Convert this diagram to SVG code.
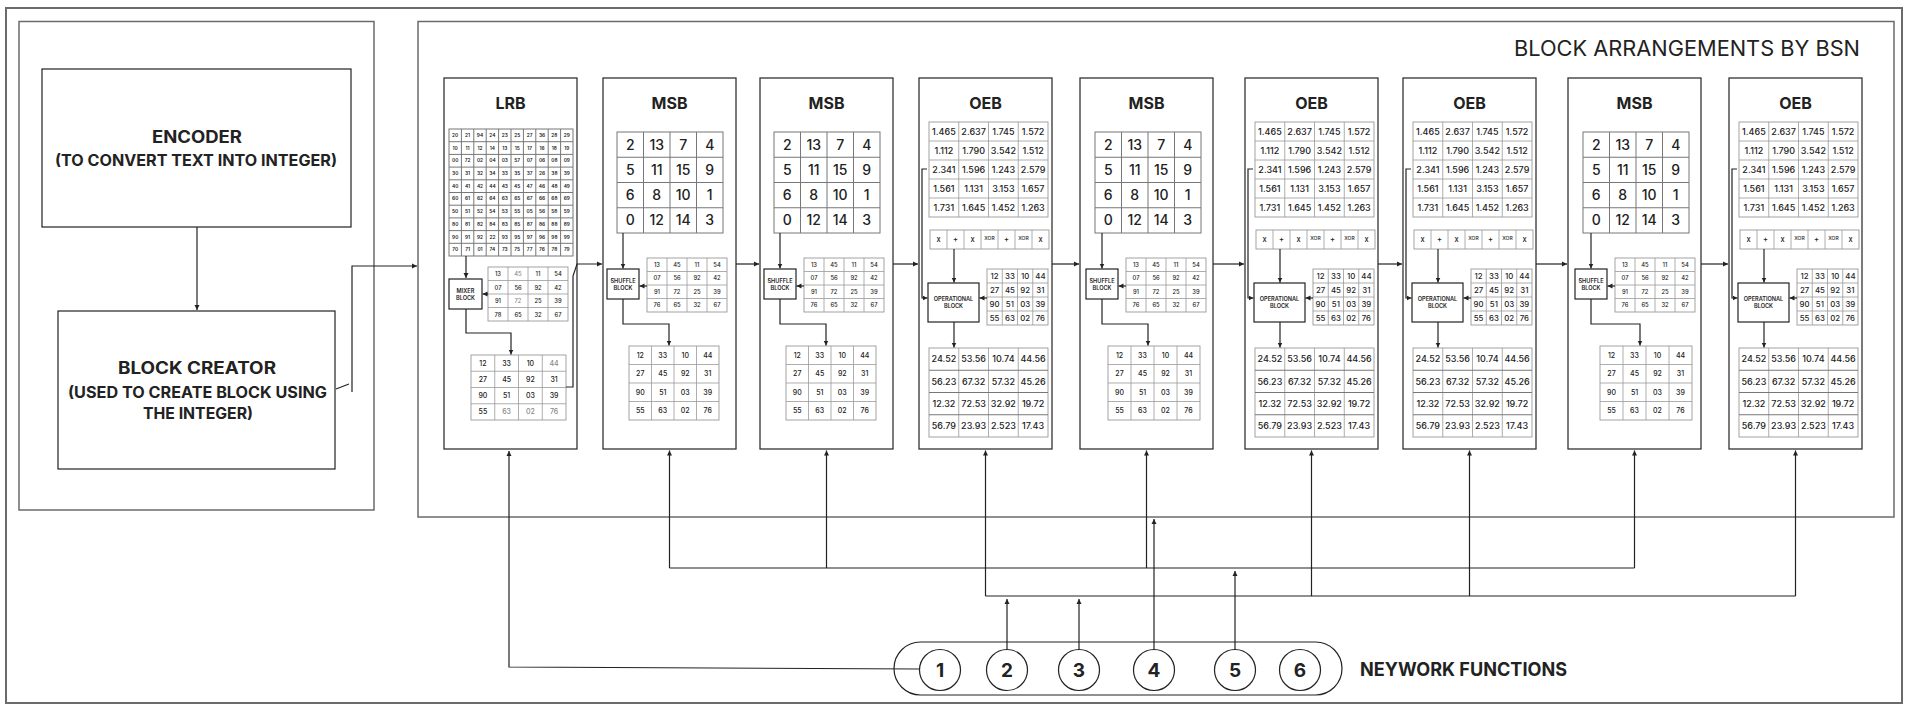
<svg xmlns="http://www.w3.org/2000/svg" width="1910" height="711" viewBox="0 0 1910 711">
<style>
text{font-family:Inter,"Liberation Sans",sans-serif;fill:#222}
.frm{fill:none;stroke:#6b6b6b;stroke-width:2}
.blk{fill:#fff;stroke:#333;stroke-width:1.3}
.box{fill:#fff;stroke:#222;stroke-width:1.2}
.bx{fill:#fff;stroke:#222;stroke-width:1.2}
.tb{fill:#fff;stroke:#999;stroke-width:0.9}
.ln{fill:none;stroke:#999;stroke-width:0.8}
.tk{fill:#fff;stroke:#777;stroke-width:1}
.lk{fill:none;stroke:#777;stroke-width:1}
.c{fill:none;stroke:#222;stroke-width:1.2}
.ca{fill:none;stroke:#222;stroke-width:1.2;marker-end:url(#ah)}
.ttl{font-size:16px;font-weight:700;text-anchor:middle}
.big{font-size:17px;font-weight:700}
.sub{font-size:15.5px;font-weight:700}
.n12{font-size:14px;font-weight:500;text-anchor:middle}
.n4{font-size:4.8px;font-weight:600;text-anchor:middle}
.n5{font-size:5.8px;font-weight:500;text-anchor:middle}
.n6{font-size:7px;font-weight:500;text-anchor:middle}
.n7{font-size:7.8px;font-weight:500;text-anchor:middle}
.n8{font-size:9px;font-weight:500;text-anchor:middle}
.op{font-size:7.5px;font-weight:500;text-anchor:middle}
.xo{font-size:5px;font-weight:500;text-anchor:middle}
.lb{font-size:5.6px;font-weight:600;text-anchor:middle}
.lt{fill:#8a8a8a}
.num{font-size:19px;font-weight:700;text-anchor:middle}
.cir{fill:#fff;stroke:#222;stroke-width:1.2}
</style>
<defs>
<marker id="ah" markerUnits="userSpaceOnUse" markerWidth="6" markerHeight="6" refX="5" refY="3" orient="auto">
<path d="M0,0.5 L5,3 L0,5.5 z" fill="#222"/>
</marker>
</defs>
<rect width="1910" height="711" fill="#fff"/>
<rect class="frm" x="6" y="8" width="1896" height="695"/>
<rect class="frm" x="19" y="21.5" width="355" height="488.5" style="stroke-width:1.5"/>
<rect class="frm" x="418" y="21.5" width="1476" height="495.5" style="stroke-width:1.5"/>
<text x="1514" y="56" font-size="21" textLength="346" lengthAdjust="spacingAndGlyphs">BLOCK ARRANGEMENTS BY BSN</text>

<g id="encoder">
<rect class="box" x="42" y="69" width="309" height="158"/>
<text class="big" x="152" y="143" textLength="90" lengthAdjust="spacingAndGlyphs">ENCODER</text>
<text class="sub" x="55" y="166" textLength="282" lengthAdjust="spacingAndGlyphs">(TO CONVERT TEXT INTO INTEGER)</text>
</g>
<g id="block-creator">
<rect class="box" x="58" y="311" width="277" height="158"/>
<text class="big" x="118" y="374" textLength="158" lengthAdjust="spacingAndGlyphs">BLOCK CREATOR</text>
<text class="sub" x="68" y="398" textLength="259" lengthAdjust="spacingAndGlyphs">(USED TO CREATE BLOCK USING</text>
<text class="sub" x="143" y="419" textLength="110" lengthAdjust="spacingAndGlyphs">THE INTEGER)</text>
</g>

<g id="lrb" transform="translate(444,78)">
<rect class="blk" width="133" height="371"/>
<text class="ttl" x="66.5" y="31">LRB</text>
<rect class="tk" x="5" y="51" width="124" height="127"/>
<path class="lk" d="M17.4,51V178M29.8,51V178M42.2,51V178M54.6,51V178M67,51V178M79.4,51V178M91.8,51V178M104.2,51V178M116.6,51V178M5,63.7H129M5,76.4H129M5,89.1H129M5,101.8H129M5,114.5H129M5,127.2H129M5,139.9H129M5,152.6H129M5,165.3H129"/>
<text class="n4" y="58.9"><tspan x="11.2">20</tspan><tspan x="23.6">21</tspan><tspan x="36">94</tspan><tspan x="48.4">24</tspan><tspan x="60.8">23</tspan><tspan x="73.2">25</tspan><tspan x="85.6">27</tspan><tspan x="98">36</tspan><tspan x="110.4">28</tspan><tspan x="122.8">29</tspan></text>
<text class="n4" y="71.6"><tspan x="11.2">10</tspan><tspan x="23.6">11</tspan><tspan x="36">12</tspan><tspan x="48.4">14</tspan><tspan x="60.8">13</tspan><tspan x="73.2">15</tspan><tspan x="85.6">17</tspan><tspan x="98">16</tspan><tspan x="110.4">18</tspan><tspan x="122.8">19</tspan></text>
<text class="n4" y="84.3"><tspan x="11.2">00</tspan><tspan x="23.6">72</tspan><tspan x="36">02</tspan><tspan x="48.4">04</tspan><tspan x="60.8">03</tspan><tspan x="73.2">57</tspan><tspan x="85.6">07</tspan><tspan x="98">06</tspan><tspan x="110.4">08</tspan><tspan x="122.8">09</tspan></text>
<text class="n4" y="97"><tspan x="11.2">30</tspan><tspan x="23.6">31</tspan><tspan x="36">32</tspan><tspan x="48.4">34</tspan><tspan x="60.8">33</tspan><tspan x="73.2">35</tspan><tspan x="85.6">37</tspan><tspan x="98">26</tspan><tspan x="110.4">38</tspan><tspan x="122.8">39</tspan></text>
<text class="n4" y="109.7"><tspan x="11.2">40</tspan><tspan x="23.6">41</tspan><tspan x="36">42</tspan><tspan x="48.4">44</tspan><tspan x="60.8">43</tspan><tspan x="73.2">45</tspan><tspan x="85.6">47</tspan><tspan x="98">46</tspan><tspan x="110.4">48</tspan><tspan x="122.8">49</tspan></text>
<text class="n4" y="122.4"><tspan x="11.2">60</tspan><tspan x="23.6">61</tspan><tspan x="36">62</tspan><tspan x="48.4">64</tspan><tspan x="60.8">63</tspan><tspan x="73.2">65</tspan><tspan x="85.6">67</tspan><tspan x="98">66</tspan><tspan x="110.4">68</tspan><tspan x="122.8">69</tspan></text>
<text class="n4" y="135.1"><tspan x="11.2">50</tspan><tspan x="23.6">51</tspan><tspan x="36">52</tspan><tspan x="48.4">54</tspan><tspan x="60.8">53</tspan><tspan x="73.2">55</tspan><tspan x="85.6">05</tspan><tspan x="98">56</tspan><tspan x="110.4">58</tspan><tspan x="122.8">59</tspan></text>
<text class="n4" y="147.8"><tspan x="11.2">80</tspan><tspan x="23.6">81</tspan><tspan x="36">82</tspan><tspan x="48.4">84</tspan><tspan x="60.8">83</tspan><tspan x="73.2">85</tspan><tspan x="85.6">87</tspan><tspan x="98">86</tspan><tspan x="110.4">88</tspan><tspan x="122.8">89</tspan></text>
<text class="n4" y="160.5"><tspan x="11.2">90</tspan><tspan x="23.6">91</tspan><tspan x="36">92</tspan><tspan x="48.4">22</tspan><tspan x="60.8">93</tspan><tspan x="73.2">95</tspan><tspan x="85.6">97</tspan><tspan x="98">96</tspan><tspan x="110.4">98</tspan><tspan x="122.8">99</tspan></text>
<text class="n4" y="173.2"><tspan x="11.2">70</tspan><tspan x="23.6">71</tspan><tspan x="36">01</tspan><tspan x="48.4">74</tspan><tspan x="60.8">73</tspan><tspan x="73.2">75</tspan><tspan x="85.6">77</tspan><tspan x="98">76</tspan><tspan x="110.4">78</tspan><tspan x="122.8">79</tspan></text>
<rect class="bx" x="5" y="201" width="33" height="30"/>
<text class="lb"><tspan x="21.5" y="214.5">MIXER</tspan><tspan x="21.5" y="221.5">BLOCK</tspan></text>
<rect class="tb" x="44" y="189" width="80" height="54"/>
<path class="ln" d="M64,189V243M84,189V243M104,189V243M44,202.5H124M44,216H124M44,229.5H124"/>
<text class="n5" y="198"><tspan x="54">13</tspan><tspan x="74" class="lt">45</tspan><tspan x="94">11</tspan><tspan x="114">54</tspan></text>
<text class="n5" y="211.5"><tspan x="54">07</tspan><tspan x="74">56</tspan><tspan x="94">92</tspan><tspan x="114">42</tspan></text>
<text class="n5" y="225"><tspan x="54">91</tspan><tspan x="74" class="lt">72</tspan><tspan x="94">25</tspan><tspan x="114">39</tspan></text>
<text class="n5" y="238.5"><tspan x="54">78</tspan><tspan x="74">65</tspan><tspan x="94">32</tspan><tspan x="114">67</tspan></text>
<rect class="tb" x="27" y="277" width="95" height="65"/>
<path class="ln" d="M50.75,277V342M74.5,277V342M98.25,277V342M27,293.25H122M27,309.5H122M27,325.75H122"/>
<text class="n6" y="287.6"><tspan x="38.9">12</tspan><tspan x="62.6">33</tspan><tspan x="86.4">10</tspan><tspan x="110.1" class="lt">44</tspan></text>
<text class="n6" y="303.9"><tspan x="38.9">27</tspan><tspan x="62.6">45</tspan><tspan x="86.4">92</tspan><tspan x="110.1">31</tspan></text>
<text class="n6" y="320.1"><tspan x="38.9">90</tspan><tspan x="62.6">51</tspan><tspan x="86.4">03</tspan><tspan x="110.1">39</tspan></text>
<text class="n6" y="336.4"><tspan x="38.9">55</tspan><tspan x="62.6" class="lt">63</tspan><tspan x="86.4" class="lt">02</tspan><tspan x="110.1" class="lt">76</tspan></text>
<g class="inner">
<path class="ca" d="M22,178V200"/>
<path class="ca" d="M44,216H38.5"/>
<path class="ca" d="M22,231V255H67V276.5"/>
</g>
</g>

<g id="msb1" transform="translate(603,78)">
<rect class="blk" width="133" height="371"/>
<text class="ttl" x="66.5" y="31">MSB</text>
<rect class="tk" x="14" y="54" width="106" height="101"/>
<path class="lk" d="M40.5,54V155M67,54V155M93.5,54V155M14,79.25H120M14,104.5H120M14,129.75H120"/>
<text class="n12" y="71.7"><tspan x="27.25">2</tspan><tspan x="53.75">13</tspan><tspan x="80.25">7</tspan><tspan x="106.75">4</tspan></text>
<text class="n12" y="96.9"><tspan x="27.25">5</tspan><tspan x="53.75">11</tspan><tspan x="80.25">15</tspan><tspan x="106.75">9</tspan></text>
<text class="n12" y="122.2"><tspan x="27.25">6</tspan><tspan x="53.75">8</tspan><tspan x="80.25">10</tspan><tspan x="106.75">1</tspan></text>
<text class="n12" y="147.4"><tspan x="27.25">0</tspan><tspan x="53.75">12</tspan><tspan x="80.25">14</tspan><tspan x="106.75">3</tspan></text>
<rect class="bx" x="4" y="191" width="32" height="30"/>
<text class="lb"><tspan x="20" y="204.5">SHUFFLE</tspan><tspan x="20" y="211.5">BLOCK</tspan></text>
<rect class="tb" x="44" y="180" width="80" height="54"/>
<path class="ln" d="M64,180V234M84,180V234M104,180V234M44,193.5H124M44,207H124M44,220.5H124"/>
<text class="n5" y="188.8"><tspan x="54">13</tspan><tspan x="74">45</tspan><tspan x="94">11</tspan><tspan x="114">54</tspan></text>
<text class="n5" y="202.3"><tspan x="54">07</tspan><tspan x="74">56</tspan><tspan x="94">92</tspan><tspan x="114">42</tspan></text>
<text class="n5" y="215.8"><tspan x="54">91</tspan><tspan x="74">72</tspan><tspan x="94">25</tspan><tspan x="114">39</tspan></text>
<text class="n5" y="229.3"><tspan x="54">76</tspan><tspan x="74">65</tspan><tspan x="94">32</tspan><tspan x="114">67</tspan></text>
<rect class="tb" x="26" y="268" width="90" height="74"/>
<path class="ln" d="M48.5,268V342M71,268V342M93.5,268V342M26,286.5H116M26,305H116M26,323.5H116"/>
<text class="n6" y="279.8"><tspan x="37.25">12</tspan><tspan x="59.75">33</tspan><tspan x="82.25">10</tspan><tspan x="104.75">44</tspan></text>
<text class="n6" y="298.3"><tspan x="37.25">27</tspan><tspan x="59.75">45</tspan><tspan x="82.25">92</tspan><tspan x="104.75">31</tspan></text>
<text class="n6" y="316.8"><tspan x="37.25">90</tspan><tspan x="59.75">51</tspan><tspan x="82.25">03</tspan><tspan x="104.75">39</tspan></text>
<text class="n6" y="335.3"><tspan x="37.25">55</tspan><tspan x="59.75">63</tspan><tspan x="82.25">02</tspan><tspan x="104.75">76</tspan></text>
<g class="inner">
<path class="ca" d="M20,155V190.5"/>
<path class="ca" d="M44,208H36.5"/>
<path class="ca" d="M20,221V246H66V267.5"/>
</g>
</g>

<g id="msb2" transform="translate(760,78)">
<rect class="blk" width="133" height="371"/>
<text class="ttl" x="66.5" y="31">MSB</text>
<rect class="tk" x="14" y="54" width="106" height="101"/>
<path class="lk" d="M40.5,54V155M67,54V155M93.5,54V155M14,79.25H120M14,104.5H120M14,129.75H120"/>
<text class="n12" y="71.7"><tspan x="27.25">2</tspan><tspan x="53.75">13</tspan><tspan x="80.25">7</tspan><tspan x="106.75">4</tspan></text>
<text class="n12" y="96.9"><tspan x="27.25">5</tspan><tspan x="53.75">11</tspan><tspan x="80.25">15</tspan><tspan x="106.75">9</tspan></text>
<text class="n12" y="122.2"><tspan x="27.25">6</tspan><tspan x="53.75">8</tspan><tspan x="80.25">10</tspan><tspan x="106.75">1</tspan></text>
<text class="n12" y="147.4"><tspan x="27.25">0</tspan><tspan x="53.75">12</tspan><tspan x="80.25">14</tspan><tspan x="106.75">3</tspan></text>
<rect class="bx" x="4" y="191" width="32" height="30"/>
<text class="lb"><tspan x="20" y="204.5">SHUFFLE</tspan><tspan x="20" y="211.5">BLOCK</tspan></text>
<rect class="tb" x="44" y="180" width="80" height="54"/>
<path class="ln" d="M64,180V234M84,180V234M104,180V234M44,193.5H124M44,207H124M44,220.5H124"/>
<text class="n5" y="188.8"><tspan x="54">13</tspan><tspan x="74">45</tspan><tspan x="94">11</tspan><tspan x="114">54</tspan></text>
<text class="n5" y="202.3"><tspan x="54">07</tspan><tspan x="74">56</tspan><tspan x="94">92</tspan><tspan x="114">42</tspan></text>
<text class="n5" y="215.8"><tspan x="54">91</tspan><tspan x="74">72</tspan><tspan x="94">25</tspan><tspan x="114">39</tspan></text>
<text class="n5" y="229.3"><tspan x="54">76</tspan><tspan x="74">65</tspan><tspan x="94">32</tspan><tspan x="114">67</tspan></text>
<rect class="tb" x="26" y="268" width="90" height="74"/>
<path class="ln" d="M48.5,268V342M71,268V342M93.5,268V342M26,286.5H116M26,305H116M26,323.5H116"/>
<text class="n6" y="279.8"><tspan x="37.25">12</tspan><tspan x="59.75">33</tspan><tspan x="82.25">10</tspan><tspan x="104.75">44</tspan></text>
<text class="n6" y="298.3"><tspan x="37.25">27</tspan><tspan x="59.75">45</tspan><tspan x="82.25">92</tspan><tspan x="104.75">31</tspan></text>
<text class="n6" y="316.8"><tspan x="37.25">90</tspan><tspan x="59.75">51</tspan><tspan x="82.25">03</tspan><tspan x="104.75">39</tspan></text>
<text class="n6" y="335.3"><tspan x="37.25">55</tspan><tspan x="59.75">63</tspan><tspan x="82.25">02</tspan><tspan x="104.75">76</tspan></text>
<g class="inner">
<path class="ca" d="M20,155V190.5"/>
<path class="ca" d="M44,208H36.5"/>
<path class="ca" d="M20,221V246H66V267.5"/>
</g>
</g>

<g id="oeb1" transform="translate(919,78)">
<rect class="blk" width="133" height="371"/>
<text class="ttl" x="66.5" y="31">OEB</text>
<rect class="tb" x="10" y="44" width="119" height="95"/>
<path class="ln" d="M39.75,44V139M69.5,44V139M99.25,44V139M10,63H129M10,82H129M10,101H129M10,120H129"/>
<text class="n8" y="56.8"><tspan x="24.9">1.465</tspan><tspan x="54.6">2.637</tspan><tspan x="84.4">1.745</tspan><tspan x="114.1">1.572</tspan></text>
<text class="n8" y="75.8"><tspan x="24.9">1.112</tspan><tspan x="54.6">1.790</tspan><tspan x="84.4">3.542</tspan><tspan x="114.1">1.512</tspan></text>
<text class="n8" y="94.8"><tspan x="24.9">2.341</tspan><tspan x="54.6">1.596</tspan><tspan x="84.4">1.243</tspan><tspan x="114.1">2.579</tspan></text>
<text class="n8" y="113.8"><tspan x="24.9">1.561</tspan><tspan x="54.6">1.131</tspan><tspan x="84.4">3.153</tspan><tspan x="114.1">1.657</tspan></text>
<text class="n8" y="132.8"><tspan x="24.9">1.731</tspan><tspan x="54.6">1.645</tspan><tspan x="84.4">1.452</tspan><tspan x="114.1">1.263</tspan></text>
<rect class="tb" x="11" y="152" width="119" height="19"/>
<path class="ln" d="M28,152V171M45,152V171M62,152V171M79,152V171M96,152V171M113,152V171"/>
<text class="op" y="163.8"><tspan x="19.5">x</tspan><tspan x="36.5">+</tspan><tspan x="53.5">x</tspan><tspan x="70.5" class="xo" dy="-2">XOR</tspan><tspan x="87.5" y="163.8">+</tspan><tspan x="104.5" class="xo" dy="-2">XOR</tspan><tspan x="121.5" y="163.8">x</tspan></text>
<rect class="bx" x="9" y="205" width="51" height="39"/>
<text class="lb"><tspan x="34.5" y="222.5">OPERATIONAL</tspan><tspan x="34.5" y="229.5">BLOCK</tspan></text>
<rect class="tb" x="68" y="191" width="61" height="56"/>
<path class="ln" d="M83.25,191V247M98.5,191V247M113.75,191V247M68,205H129M68,219H129M68,233H129"/>
<text class="n7" y="200.8"><tspan x="75.6">12</tspan><tspan x="90.9">33</tspan><tspan x="106.1">10</tspan><tspan x="121.4">44</tspan></text>
<text class="n7" y="214.8"><tspan x="75.6">27</tspan><tspan x="90.9">45</tspan><tspan x="106.1">92</tspan><tspan x="121.4">31</tspan></text>
<text class="n7" y="228.8"><tspan x="75.6">90</tspan><tspan x="90.9">51</tspan><tspan x="106.1">03</tspan><tspan x="121.4">39</tspan></text>
<text class="n7" y="242.8"><tspan x="75.6">55</tspan><tspan x="90.9">63</tspan><tspan x="106.1">02</tspan><tspan x="121.4">76</tspan></text>
<rect class="tb" x="10" y="270" width="119" height="89"/>
<path class="ln" d="M39.75,270V359M69.5,270V359M99.25,270V359"/>
<path class="lk" d="M10,292.25H129M10,314.5H129M10,336.75H129"/>
<text class="n8" y="284.4"><tspan x="24.9">24.52</tspan><tspan x="54.6">53.56</tspan><tspan x="84.4">10.74</tspan><tspan x="114.1">44.56</tspan></text>
<text class="n8" y="306.7"><tspan x="24.9">56.23</tspan><tspan x="54.6">67.32</tspan><tspan x="84.4">57.32</tspan><tspan x="114.1">45.26</tspan></text>
<text class="n8" y="328.9"><tspan x="24.9">12.32</tspan><tspan x="54.6">72.53</tspan><tspan x="84.4">32.92</tspan><tspan x="114.1">19.72</tspan></text>
<text class="n8" y="351.2"><tspan x="24.9">56.79</tspan><tspan x="54.6">23.93</tspan><tspan x="84.4">2.523</tspan><tspan x="114.1">17.43</tspan></text>
<g class="inner">
<path class="ca" d="M35,171V204.5"/>
<path class="ca" d="M8,91H3V220H8.5"/>
<path class="ca" d="M68,220H60.5"/>
<path class="ca" d="M35,244V269.5"/>
</g>
</g>

<g id="msb3" transform="translate(1080,78)">
<rect class="blk" width="133" height="371"/>
<text class="ttl" x="66.5" y="31">MSB</text>
<rect class="tk" x="15" y="54" width="106" height="101"/>
<path class="lk" d="M41.5,54V155M68,54V155M94.5,54V155M15,79.25H121M15,104.5H121M15,129.75H121"/>
<text class="n12" y="71.7"><tspan x="28.25">2</tspan><tspan x="54.75">13</tspan><tspan x="81.25">7</tspan><tspan x="107.75">4</tspan></text>
<text class="n12" y="96.9"><tspan x="28.25">5</tspan><tspan x="54.75">11</tspan><tspan x="81.25">15</tspan><tspan x="107.75">9</tspan></text>
<text class="n12" y="122.2"><tspan x="28.25">6</tspan><tspan x="54.75">8</tspan><tspan x="81.25">10</tspan><tspan x="107.75">1</tspan></text>
<text class="n12" y="147.4"><tspan x="28.25">0</tspan><tspan x="54.75">12</tspan><tspan x="81.25">14</tspan><tspan x="107.75">3</tspan></text>
<rect class="bx" x="6" y="191" width="32" height="30"/>
<text class="lb"><tspan x="22" y="204.5">SHUFFLE</tspan><tspan x="22" y="211.5">BLOCK</tspan></text>
<rect class="tb" x="46" y="180" width="80" height="54"/>
<path class="ln" d="M66,180V234M86,180V234M106,180V234M46,193.5H126M46,207H126M46,220.5H126"/>
<text class="n5" y="188.8"><tspan x="56">13</tspan><tspan x="76">45</tspan><tspan x="96">11</tspan><tspan x="116">54</tspan></text>
<text class="n5" y="202.3"><tspan x="56">07</tspan><tspan x="76">56</tspan><tspan x="96">92</tspan><tspan x="116">42</tspan></text>
<text class="n5" y="215.8"><tspan x="56">91</tspan><tspan x="76">72</tspan><tspan x="96">25</tspan><tspan x="116">39</tspan></text>
<text class="n5" y="229.3"><tspan x="56">76</tspan><tspan x="76">65</tspan><tspan x="96">32</tspan><tspan x="116">67</tspan></text>
<rect class="tb" x="28" y="268" width="92" height="74"/>
<path class="ln" d="M51,268V342M74,268V342M97,268V342M28,286.5H120M28,305H120M28,323.5H120"/>
<text class="n6" y="279.8"><tspan x="39.5">12</tspan><tspan x="62.5">33</tspan><tspan x="85.5">10</tspan><tspan x="108.5">44</tspan></text>
<text class="n6" y="298.3"><tspan x="39.5">27</tspan><tspan x="62.5">45</tspan><tspan x="85.5">92</tspan><tspan x="108.5">31</tspan></text>
<text class="n6" y="316.8"><tspan x="39.5">90</tspan><tspan x="62.5">51</tspan><tspan x="85.5">03</tspan><tspan x="108.5">39</tspan></text>
<text class="n6" y="335.3"><tspan x="39.5">55</tspan><tspan x="62.5">63</tspan><tspan x="85.5">02</tspan><tspan x="108.5">76</tspan></text>
<g class="inner">
<path class="ca" d="M22,155V190.5"/>
<path class="ca" d="M46,208H38.5"/>
<path class="ca" d="M22,221V246H68V267.5"/>
</g>
</g>

<g id="oeb2" transform="translate(1245,78)">
<rect class="blk" width="133" height="371"/>
<text class="ttl" x="66.5" y="31">OEB</text>
<rect class="tb" x="10" y="44" width="119" height="95"/>
<path class="ln" d="M39.75,44V139M69.5,44V139M99.25,44V139M10,63H129M10,82H129M10,101H129M10,120H129"/>
<text class="n8" y="56.8"><tspan x="24.9">1.465</tspan><tspan x="54.6">2.637</tspan><tspan x="84.4">1.745</tspan><tspan x="114.1">1.572</tspan></text>
<text class="n8" y="75.8"><tspan x="24.9">1.112</tspan><tspan x="54.6">1.790</tspan><tspan x="84.4">3.542</tspan><tspan x="114.1">1.512</tspan></text>
<text class="n8" y="94.8"><tspan x="24.9">2.341</tspan><tspan x="54.6">1.596</tspan><tspan x="84.4">1.243</tspan><tspan x="114.1">2.579</tspan></text>
<text class="n8" y="113.8"><tspan x="24.9">1.561</tspan><tspan x="54.6">1.131</tspan><tspan x="84.4">3.153</tspan><tspan x="114.1">1.657</tspan></text>
<text class="n8" y="132.8"><tspan x="24.9">1.731</tspan><tspan x="54.6">1.645</tspan><tspan x="84.4">1.452</tspan><tspan x="114.1">1.263</tspan></text>
<rect class="tb" x="11" y="152" width="119" height="19"/>
<path class="ln" d="M28,152V171M45,152V171M62,152V171M79,152V171M96,152V171M113,152V171"/>
<text class="op" y="163.8"><tspan x="19.5">x</tspan><tspan x="36.5">+</tspan><tspan x="53.5">x</tspan><tspan x="70.5" class="xo" dy="-2">XOR</tspan><tspan x="87.5" y="163.8">+</tspan><tspan x="104.5" class="xo" dy="-2">XOR</tspan><tspan x="121.5" y="163.8">x</tspan></text>
<rect class="bx" x="9" y="205" width="51" height="39"/>
<text class="lb"><tspan x="34.5" y="222.5">OPERATIONAL</tspan><tspan x="34.5" y="229.5">BLOCK</tspan></text>
<rect class="tb" x="68" y="191" width="61" height="56"/>
<path class="ln" d="M83.25,191V247M98.5,191V247M113.75,191V247M68,205H129M68,219H129M68,233H129"/>
<text class="n7" y="200.8"><tspan x="75.6">12</tspan><tspan x="90.9">33</tspan><tspan x="106.1">10</tspan><tspan x="121.4">44</tspan></text>
<text class="n7" y="214.8"><tspan x="75.6">27</tspan><tspan x="90.9">45</tspan><tspan x="106.1">92</tspan><tspan x="121.4">31</tspan></text>
<text class="n7" y="228.8"><tspan x="75.6">90</tspan><tspan x="90.9">51</tspan><tspan x="106.1">03</tspan><tspan x="121.4">39</tspan></text>
<text class="n7" y="242.8"><tspan x="75.6">55</tspan><tspan x="90.9">63</tspan><tspan x="106.1">02</tspan><tspan x="121.4">76</tspan></text>
<rect class="tb" x="10" y="270" width="119" height="89"/>
<path class="ln" d="M39.75,270V359M69.5,270V359M99.25,270V359"/>
<path class="lk" d="M10,292.25H129M10,314.5H129M10,336.75H129"/>
<text class="n8" y="284.4"><tspan x="24.9">24.52</tspan><tspan x="54.6">53.56</tspan><tspan x="84.4">10.74</tspan><tspan x="114.1">44.56</tspan></text>
<text class="n8" y="306.7"><tspan x="24.9">56.23</tspan><tspan x="54.6">67.32</tspan><tspan x="84.4">57.32</tspan><tspan x="114.1">45.26</tspan></text>
<text class="n8" y="328.9"><tspan x="24.9">12.32</tspan><tspan x="54.6">72.53</tspan><tspan x="84.4">32.92</tspan><tspan x="114.1">19.72</tspan></text>
<text class="n8" y="351.2"><tspan x="24.9">56.79</tspan><tspan x="54.6">23.93</tspan><tspan x="84.4">2.523</tspan><tspan x="114.1">17.43</tspan></text>
<g class="inner">
<path class="ca" d="M35,171V204.5"/>
<path class="ca" d="M8,91H3V220H8.5"/>
<path class="ca" d="M68,220H60.5"/>
<path class="ca" d="M35,244V269.5"/>
</g>
</g>

<g id="oeb3" transform="translate(1403,78)">
<rect class="blk" width="133" height="371"/>
<text class="ttl" x="66.5" y="31">OEB</text>
<rect class="tb" x="10" y="44" width="119" height="95"/>
<path class="ln" d="M39.75,44V139M69.5,44V139M99.25,44V139M10,63H129M10,82H129M10,101H129M10,120H129"/>
<text class="n8" y="56.8"><tspan x="24.9">1.465</tspan><tspan x="54.6">2.637</tspan><tspan x="84.4">1.745</tspan><tspan x="114.1">1.572</tspan></text>
<text class="n8" y="75.8"><tspan x="24.9">1.112</tspan><tspan x="54.6">1.790</tspan><tspan x="84.4">3.542</tspan><tspan x="114.1">1.512</tspan></text>
<text class="n8" y="94.8"><tspan x="24.9">2.341</tspan><tspan x="54.6">1.596</tspan><tspan x="84.4">1.243</tspan><tspan x="114.1">2.579</tspan></text>
<text class="n8" y="113.8"><tspan x="24.9">1.561</tspan><tspan x="54.6">1.131</tspan><tspan x="84.4">3.153</tspan><tspan x="114.1">1.657</tspan></text>
<text class="n8" y="132.8"><tspan x="24.9">1.731</tspan><tspan x="54.6">1.645</tspan><tspan x="84.4">1.452</tspan><tspan x="114.1">1.263</tspan></text>
<rect class="tb" x="11" y="152" width="119" height="19"/>
<path class="ln" d="M28,152V171M45,152V171M62,152V171M79,152V171M96,152V171M113,152V171"/>
<text class="op" y="163.8"><tspan x="19.5">x</tspan><tspan x="36.5">+</tspan><tspan x="53.5">x</tspan><tspan x="70.5" class="xo" dy="-2">XOR</tspan><tspan x="87.5" y="163.8">+</tspan><tspan x="104.5" class="xo" dy="-2">XOR</tspan><tspan x="121.5" y="163.8">x</tspan></text>
<rect class="bx" x="9" y="205" width="51" height="39"/>
<text class="lb"><tspan x="34.5" y="222.5">OPERATIONAL</tspan><tspan x="34.5" y="229.5">BLOCK</tspan></text>
<rect class="tb" x="68" y="191" width="61" height="56"/>
<path class="ln" d="M83.25,191V247M98.5,191V247M113.75,191V247M68,205H129M68,219H129M68,233H129"/>
<text class="n7" y="200.8"><tspan x="75.6">12</tspan><tspan x="90.9">33</tspan><tspan x="106.1">10</tspan><tspan x="121.4">44</tspan></text>
<text class="n7" y="214.8"><tspan x="75.6">27</tspan><tspan x="90.9">45</tspan><tspan x="106.1">92</tspan><tspan x="121.4">31</tspan></text>
<text class="n7" y="228.8"><tspan x="75.6">90</tspan><tspan x="90.9">51</tspan><tspan x="106.1">03</tspan><tspan x="121.4">39</tspan></text>
<text class="n7" y="242.8"><tspan x="75.6">55</tspan><tspan x="90.9">63</tspan><tspan x="106.1">02</tspan><tspan x="121.4">76</tspan></text>
<rect class="tb" x="10" y="270" width="119" height="89"/>
<path class="ln" d="M39.75,270V359M69.5,270V359M99.25,270V359"/>
<path class="lk" d="M10,292.25H129M10,314.5H129M10,336.75H129"/>
<text class="n8" y="284.4"><tspan x="24.9">24.52</tspan><tspan x="54.6">53.56</tspan><tspan x="84.4">10.74</tspan><tspan x="114.1">44.56</tspan></text>
<text class="n8" y="306.7"><tspan x="24.9">56.23</tspan><tspan x="54.6">67.32</tspan><tspan x="84.4">57.32</tspan><tspan x="114.1">45.26</tspan></text>
<text class="n8" y="328.9"><tspan x="24.9">12.32</tspan><tspan x="54.6">72.53</tspan><tspan x="84.4">32.92</tspan><tspan x="114.1">19.72</tspan></text>
<text class="n8" y="351.2"><tspan x="24.9">56.79</tspan><tspan x="54.6">23.93</tspan><tspan x="84.4">2.523</tspan><tspan x="114.1">17.43</tspan></text>
<g class="inner">
<path class="ca" d="M35,171V204.5"/>
<path class="ca" d="M8,91H3V220H8.5"/>
<path class="ca" d="M68,220H60.5"/>
<path class="ca" d="M35,244V269.5"/>
</g>
</g>

<g id="msb4" transform="translate(1568,78)">
<rect class="blk" width="133" height="371"/>
<text class="ttl" x="66.5" y="31">MSB</text>
<rect class="tk" x="15" y="54" width="106" height="101"/>
<path class="lk" d="M41.5,54V155M68,54V155M94.5,54V155M15,79.25H121M15,104.5H121M15,129.75H121"/>
<text class="n12" y="71.7"><tspan x="28.25">2</tspan><tspan x="54.75">13</tspan><tspan x="81.25">7</tspan><tspan x="107.75">4</tspan></text>
<text class="n12" y="96.9"><tspan x="28.25">5</tspan><tspan x="54.75">11</tspan><tspan x="81.25">15</tspan><tspan x="107.75">9</tspan></text>
<text class="n12" y="122.2"><tspan x="28.25">6</tspan><tspan x="54.75">8</tspan><tspan x="81.25">10</tspan><tspan x="107.75">1</tspan></text>
<text class="n12" y="147.4"><tspan x="28.25">0</tspan><tspan x="54.75">12</tspan><tspan x="81.25">14</tspan><tspan x="107.75">3</tspan></text>
<rect class="bx" x="7" y="191" width="32" height="30"/>
<text class="lb"><tspan x="23" y="204.5">SHUFFLE</tspan><tspan x="23" y="211.5">BLOCK</tspan></text>
<rect class="tb" x="47" y="180" width="80" height="54"/>
<path class="ln" d="M67,180V234M87,180V234M107,180V234M47,193.5H127M47,207H127M47,220.5H127"/>
<text class="n5" y="188.8"><tspan x="57">13</tspan><tspan x="77">45</tspan><tspan x="97">11</tspan><tspan x="117">54</tspan></text>
<text class="n5" y="202.3"><tspan x="57">07</tspan><tspan x="77">56</tspan><tspan x="97">92</tspan><tspan x="117">42</tspan></text>
<text class="n5" y="215.8"><tspan x="57">91</tspan><tspan x="77">72</tspan><tspan x="97">25</tspan><tspan x="117">39</tspan></text>
<text class="n5" y="229.3"><tspan x="57">76</tspan><tspan x="77">65</tspan><tspan x="97">32</tspan><tspan x="117">67</tspan></text>
<rect class="tb" x="32" y="268" width="92" height="74"/>
<path class="ln" d="M55,268V342M78,268V342M101,268V342M32,286.5H124M32,305H124M32,323.5H124"/>
<text class="n6" y="279.8"><tspan x="43.5">12</tspan><tspan x="66.5">33</tspan><tspan x="89.5">10</tspan><tspan x="112.5">44</tspan></text>
<text class="n6" y="298.3"><tspan x="43.5">27</tspan><tspan x="66.5">45</tspan><tspan x="89.5">92</tspan><tspan x="112.5">31</tspan></text>
<text class="n6" y="316.8"><tspan x="43.5">90</tspan><tspan x="66.5">51</tspan><tspan x="89.5">03</tspan><tspan x="112.5">39</tspan></text>
<text class="n6" y="335.3"><tspan x="43.5">55</tspan><tspan x="66.5">63</tspan><tspan x="89.5">02</tspan><tspan x="112.5">76</tspan></text>
<g class="inner">
<path class="ca" d="M23,155V190.5"/>
<path class="ca" d="M47,208H39.5"/>
<path class="ca" d="M23,221V246H72V267.5"/>
</g>
</g>

<g id="oeb4" transform="translate(1729,78)">
<rect class="blk" width="133" height="371"/>
<text class="ttl" x="66.5" y="31">OEB</text>
<rect class="tb" x="10" y="44" width="119" height="95"/>
<path class="ln" d="M39.75,44V139M69.5,44V139M99.25,44V139M10,63H129M10,82H129M10,101H129M10,120H129"/>
<text class="n8" y="56.8"><tspan x="24.9">1.465</tspan><tspan x="54.6">2.637</tspan><tspan x="84.4">1.745</tspan><tspan x="114.1">1.572</tspan></text>
<text class="n8" y="75.8"><tspan x="24.9">1.112</tspan><tspan x="54.6">1.790</tspan><tspan x="84.4">3.542</tspan><tspan x="114.1">1.512</tspan></text>
<text class="n8" y="94.8"><tspan x="24.9">2.341</tspan><tspan x="54.6">1.596</tspan><tspan x="84.4">1.243</tspan><tspan x="114.1">2.579</tspan></text>
<text class="n8" y="113.8"><tspan x="24.9">1.561</tspan><tspan x="54.6">1.131</tspan><tspan x="84.4">3.153</tspan><tspan x="114.1">1.657</tspan></text>
<text class="n8" y="132.8"><tspan x="24.9">1.731</tspan><tspan x="54.6">1.645</tspan><tspan x="84.4">1.452</tspan><tspan x="114.1">1.263</tspan></text>
<rect class="tb" x="11" y="152" width="119" height="19"/>
<path class="ln" d="M28,152V171M45,152V171M62,152V171M79,152V171M96,152V171M113,152V171"/>
<text class="op" y="163.8"><tspan x="19.5">x</tspan><tspan x="36.5">+</tspan><tspan x="53.5">x</tspan><tspan x="70.5" class="xo" dy="-2">XOR</tspan><tspan x="87.5" y="163.8">+</tspan><tspan x="104.5" class="xo" dy="-2">XOR</tspan><tspan x="121.5" y="163.8">x</tspan></text>
<rect class="bx" x="9" y="205" width="51" height="39"/>
<text class="lb"><tspan x="34.5" y="222.5">OPERATIONAL</tspan><tspan x="34.5" y="229.5">BLOCK</tspan></text>
<rect class="tb" x="68" y="191" width="61" height="56"/>
<path class="ln" d="M83.25,191V247M98.5,191V247M113.75,191V247M68,205H129M68,219H129M68,233H129"/>
<text class="n7" y="200.8"><tspan x="75.6">12</tspan><tspan x="90.9">33</tspan><tspan x="106.1">10</tspan><tspan x="121.4">44</tspan></text>
<text class="n7" y="214.8"><tspan x="75.6">27</tspan><tspan x="90.9">45</tspan><tspan x="106.1">92</tspan><tspan x="121.4">31</tspan></text>
<text class="n7" y="228.8"><tspan x="75.6">90</tspan><tspan x="90.9">51</tspan><tspan x="106.1">03</tspan><tspan x="121.4">39</tspan></text>
<text class="n7" y="242.8"><tspan x="75.6">55</tspan><tspan x="90.9">63</tspan><tspan x="106.1">02</tspan><tspan x="121.4">76</tspan></text>
<rect class="tb" x="10" y="270" width="119" height="89"/>
<path class="ln" d="M39.75,270V359M69.5,270V359M99.25,270V359"/>
<path class="lk" d="M10,292.25H129M10,314.5H129M10,336.75H129"/>
<text class="n8" y="284.4"><tspan x="24.9">24.52</tspan><tspan x="54.6">53.56</tspan><tspan x="84.4">10.74</tspan><tspan x="114.1">44.56</tspan></text>
<text class="n8" y="306.7"><tspan x="24.9">56.23</tspan><tspan x="54.6">67.32</tspan><tspan x="84.4">57.32</tspan><tspan x="114.1">45.26</tspan></text>
<text class="n8" y="328.9"><tspan x="24.9">12.32</tspan><tspan x="54.6">72.53</tspan><tspan x="84.4">32.92</tspan><tspan x="114.1">19.72</tspan></text>
<text class="n8" y="351.2"><tspan x="24.9">56.79</tspan><tspan x="54.6">23.93</tspan><tspan x="84.4">2.523</tspan><tspan x="114.1">17.43</tspan></text>
<g class="inner">
<path class="ca" d="M35,171V204.5"/>
<path class="ca" d="M8,91H3V220H8.5"/>
<path class="ca" d="M68,220H60.5"/>
<path class="ca" d="M35,244V269.5"/>
</g>
</g>

<g id="network-functions">
<rect fill="#fff" stroke="#222" stroke-width="1.2" x="894" y="642" width="448" height="53" rx="26.5"/>
<circle class="cir" cx="940" cy="670" r="20.5"/>
<circle class="cir" cx="1007" cy="670" r="20.5"/>
<circle class="cir" cx="1079" cy="670" r="20.5"/>
<circle class="cir" cx="1154" cy="670" r="20.5"/>
<circle class="cir" cx="1235" cy="670" r="20.5"/>
<circle class="cir" cx="1300" cy="670" r="20.5"/>
<text class="num" y="677"><tspan x="940">1</tspan><tspan x="1007">2</tspan><tspan x="1079">3</tspan><tspan x="1154">4</tspan><tspan x="1235">5</tspan><tspan x="1300">6</tspan></text>
<text x="1360" y="676" font-size="19" font-weight="700" textLength="207" lengthAdjust="spacingAndGlyphs">NEYWORK FUNCTIONS</text>
</g>

<g id="connectors">
<path class="ca" d="M197,227V310"/>
<path class="c" d="M336,389L349,384"/>
<path class="ca" d="M352,392V266H417"/>
<path class="ca" d="M566,387H573V276L577,264H602"/>
<path class="ca" d="M736,264H759"/>
<path class="ca" d="M893,264H918"/>
<path class="ca" d="M1052,264H1079"/>
<path class="ca" d="M1213,264H1244"/>
<path class="ca" d="M1378,264H1402"/>
<path class="ca" d="M1536,264H1567"/>
<path class="ca" d="M1701,264H1728"/>
<path class="c" d="M669.5,568H1634.5"/>
<path class="ca" d="M669.5,568V450.5"/>
<path class="ca" d="M826.5,568V450.5"/>
<path class="ca" d="M1146.5,568V450.5"/>
<path class="ca" d="M1634.5,568V450.5"/>
<path class="c" d="M985.5,596H1795.5"/>
<path class="ca" d="M985.5,596V450.5"/>
<path class="ca" d="M1311.5,596V450.5"/>
<path class="ca" d="M1469.5,596V450.5"/>
<path class="ca" d="M1795.5,596V450.5"/>
<path class="ca" d="M919.5,669L509,667V451"/>
<path class="ca" d="M1007,649.5V599"/>
<path class="ca" d="M1079,649.5V599"/>
<path class="ca" d="M1154,649.5V519"/>
<path class="ca" d="M1235,649.5V571"/>
</g>
</svg>
